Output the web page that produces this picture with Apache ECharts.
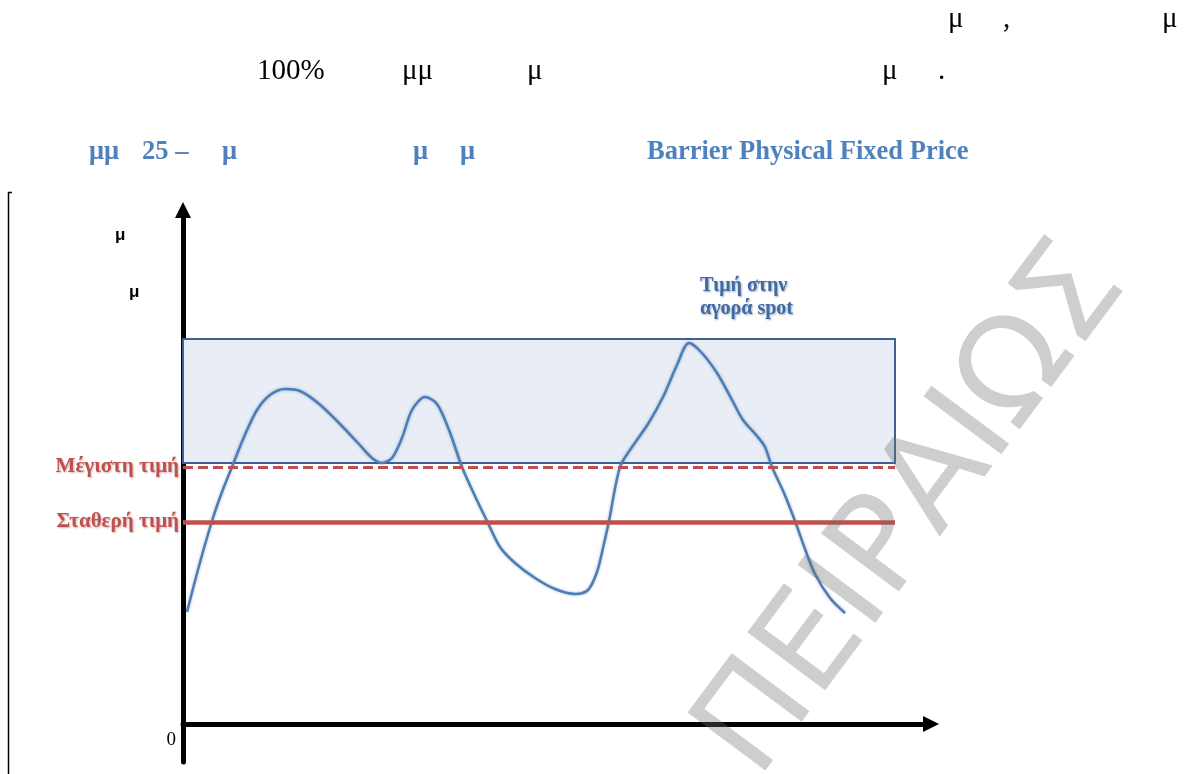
<!DOCTYPE html>
<html>
<head>
<meta charset="utf-8">
<script src="https://cdn.jsdelivr.net/npm/echarts@6/dist/echarts.min.js"></script>
<style>
  html, body { margin: 0; padding: 0; background: #ffffff; }
  #chart { width: 1187px; height: 774px; }
</style>
</head>
<body>
<div id="chart"></div>
<script>
// Spot price path over time (arbitrary units, origin at the axes corner)
const timeSteps = [4, 16, 29, 39, 49, 61, 74, 87, 102, 117, 135, 155, 175, 189, 199, 209, 219, 229, 242, 254, 266, 279, 291, 304, 317, 332, 352, 372, 392, 405, 414, 420, 426, 437, 449, 465, 480, 494, 506, 518, 534, 548, 560, 574, 582, 589, 601, 612, 622, 632, 647, 662];
const spotPrice = [112, 158, 203, 232, 257, 287, 314, 329, 335, 333, 321, 302, 281, 266, 261, 266, 286, 314, 327, 320, 294, 257, 230, 203, 177, 161, 146, 135, 130, 134, 152, 176, 203, 257, 277, 300, 327, 359, 381, 372, 351, 326, 304, 288, 277, 257, 231, 203, 175, 150, 126, 111];

// Price levels of the contract
const maxPrice = 257;          // Μέγιστη τιμή
const fixedPrice = 202;        // Σταθερή τιμή
const spotBand = [261, 385];   // range of the spot-price zone
const horizon = 712;           // end of the contract period
const levelNames = ['Μέγιστη τιμή', 'Σταθερή τιμή'];
const spotLabel = ['Τιμή στην', 'αγορά spot'];
const originTick = [0];
const axisRange = { xMin: 0, xMax: 748, yMin: -38, yMax: 514 };

// Surrounding document text fragments
const lineOne = ['μ', ',', 'μ'];
const lineTwo = ['100%', 'μμ', 'μ', 'μ', '.'];
const captionParts = ['μμ', '25 –', 'μ', 'μ', 'μ', 'Barrier Physical Fixed Price'];
const axisWords = ['μ', 'μ'];
const watermark = 'ΠΕΙΡΑΙΩΣ';

const serif = '"Liberation Serif", "Times New Roman", serif';
const red = '#c0504d';
const blue = '#4f81bd';

const graphics = [];
// left frame edge of the page table
graphics.push({ type: 'polyline', shape: { points: [[12, 192.5], [8.5, 192.5], [8.5, 774]] }, style: { stroke: '#000', lineWidth: 1.5, fill: null }, z: 1 });

const lineOneX = [948, 1003, 1162];
lineOne.forEach((t, i) => graphics.push({ type: 'text', x: lineOneX[i], y: 19, style: { text: t, font: '29px ' + serif, fill: '#000', align: 'left', verticalAlign: 'middle' } }));
const lineTwoX = [257, 402, 527, 882, 938];
lineTwo.forEach((t, i) => graphics.push({ type: 'text', x: lineTwoX[i], y: 71, style: { text: t, font: '29px ' + serif, fill: '#000', align: 'left', verticalAlign: 'middle' } }));
const captionX = [89, 142, 222, 413, 460, 647];
captionParts.forEach((t, i) => graphics.push({ type: 'text', x: captionX[i], y: 152, style: { text: t, font: 'bold 26.5px ' + serif, fill: blue, align: 'left', verticalAlign: 'middle' } }));

const axisWordPos = [[115, 235], [129, 292]];
axisWords.forEach((t, i) => graphics.push({ type: 'text', x: axisWordPos[i][0], y: axisWordPos[i][1], style: { text: t, font: 'bold 17px "Liberation Sans", Arial, sans-serif', fill: '#000', align: 'left', verticalAlign: 'middle' } }));

// label of the spot curve
graphics.push({ type: 'text', x: 700, y: 297, z: 10, style: { text: spotLabel.join('\n'), font: 'bold 20px ' + serif, lineHeight: 23, fill: '#3e6aa6', align: 'left', verticalAlign: 'middle', textShadowColor: 'rgba(40,60,100,0.45)', textShadowBlur: 2, textShadowOffsetX: 1, textShadowOffsetY: 1 } });

// diagonal watermark
graphics.push({ type: 'text', x: 915, y: 512, rotation: 0.93, z: 100, style: { text: watermark, font: '133px "DejaVu Sans", sans-serif', fill: 'rgba(110,110,110,0.34)', align: 'center', verticalAlign: 'middle' } });

const chart = echarts.init(document.getElementById('chart'), null, { renderer: 'canvas' });
chart.setOption({
  animation: false,
  backgroundColor: '#ffffff',
  grid: { left: 183, top: 210, width: 748, height: 552, containLabel: false, outerBoundsMode: 'none' },
  xAxis: {
    type: 'value', min: axisRange.xMin, max: axisRange.xMax,
    splitLine: { show: false }, axisTick: { show: false }, axisLabel: { show: false },
    axisLine: { onZero: true, symbol: ['none', 'triangle'], symbolSize: [16, 16], lineStyle: { color: '#000', width: 5 } }
  },
  yAxis: {
    type: 'value', min: axisRange.yMin, max: axisRange.yMax,
    splitLine: { show: false }, axisTick: { show: false },
    axisLabel: { customValues: originTick, margin: 7, verticalAlign: 'top', padding: [7, 0, 0, 0], fontSize: 19, fontFamily: serif, color: '#000' },
    axisLine: { onZero: true, symbol: ['none', 'triangle'], symbolSize: [16, 16], lineStyle: { color: '#000', width: 5 } }
  },
  graphic: graphics,
  series: [
    {
      name: 'band', type: 'line', data: [], z: 1, silent: true,
      markArea: {
        silent: true,
        itemStyle: { color: '#e8edf6', borderColor: '#3d6194', borderWidth: 2 },
        data: [[{ coord: [axisRange.xMin, spotBand[1]] }, { coord: [horizon, spotBand[0]] }]]
      }
    },
    {
      name: 'levels', type: 'line', data: [], z: 2, silent: true,
      markLine: {
        silent: true, symbol: ['none', 'none'],
        data: [
          [{ coord: [axisRange.xMin, maxPrice], lineStyle: { type: [10, 5], width: 3, color: '#bd4f4c' }, label: { formatter: levelNames[0] } }, { coord: [horizon, maxPrice] }],
          [{ coord: [axisRange.xMin, fixedPrice], lineStyle: { type: 'solid', width: 4.5, color: red }, label: { formatter: levelNames[1] } }, { coord: [horizon, fixedPrice] }]
        ],
        label: {
          show: true, position: 'start', distance: 4,
          fontFamily: serif, fontWeight: 'bold', fontSize: 21, color: '#c0504d',
          textShadowColor: 'rgba(120,30,30,0.35)', textShadowBlur: 2, textShadowOffsetX: 1, textShadowOffsetY: 1
        }
      }
    },
    {
      name: 'spot', type: 'line', z: 3, smooth: 0.3, showSymbol: false, symbol: 'none',
      data: timeSteps.map((t, i) => [t, spotPrice[i]]),
      lineStyle: { color: '#4a7ebb', width: 2.5, shadowColor: 'rgba(20,40,80,0.35)', shadowBlur: 3 }
    }
  ]
});
</script>
</body>
</html>
